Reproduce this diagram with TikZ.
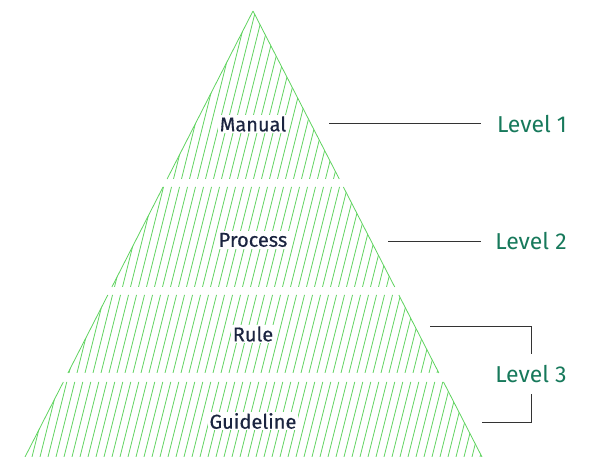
\documentclass[tikz,border=0pt]{standalone}
\usepackage{fontspec}
\setmainfont{Fira Sans}
\newfontfamily\layerfont[FakeBold=0.4]{Fira Sans}
\usetikzlibrary{calc}
\definecolor{hatchgreen}{HTML}{5FD35F}
\definecolor{labelnavy}{HTML}{1B2440}
\definecolor{levelteal}{HTML}{17795B}
\definecolor{rulegray}{HTML}{333333}
\begin{document}
\begin{tikzpicture}[x=1pt, y=1pt,
    hatch/.style = {hatchgreen, line width=0.8pt},
    layer/.style = {fill=white, inner sep=1.5pt, text=labelnavy, font=\layerfont\fontsize{20}{24}\selectfont},
    level/.style = {inner sep=1pt, text=levelteal, font=\fontsize{23}{27}\selectfont},
    leader/.style = {rulegray, line width=0.9pt}]
    \useasboundingbox (0,0) rectangle (602,457);
    \coordinate (apex) at (253,446);
    \coordinate (bl) at (25,0);
    \coordinate (br) at (482,0);
    \foreach \t/\b [count=\i] in {446/278, 270/170, 162/84, 75/0} {
        \coordinate (tl\i) at ($(apex)!{(446-\t)/446}!(bl)$);
        \coordinate (tr\i) at ($(apex)!{(446-\t)/446}!(br)$);
        \coordinate (bl\i) at ($(apex)!{(446-\b)/446}!(bl)$);
        \coordinate (br\i) at ($(apex)!{(446-\b)/446}!(br)$);
        \begin{scope}
            \clip (tl\i) -- (tr\i) -- (br\i) -- (bl\i) -- cycle;
            \foreach \x in {-96,-88,...,488}
                \draw[hatch] (\x,0) -- ++(112,448);
        \end{scope}
        \draw[hatch] (tl\i) -- (bl\i) (tr\i) -- (br\i);
    }
    \node[layer] (manual) at (253,333) {Manual};
    \node[layer] (process) at (253,217) {Process};
    \node[layer] (rule) at (253,123) {Rule};
    \node[layer] (guideline) at (253,36) {Guideline};
    \node[level] (lv1) at (532,333) {Level 1};
    \node[level] (lv2) at (531,216) {Level 2};
    \node[level] (lv3) at (531,83) {Level 3};
    \coordinate (end1) at (329,334);
    \coordinate (end2) at (388,216);
    \coordinate (end3) at (430,131);
    \coordinate (end4) at (482,35);
    \draw[leader] (end1) -- (end1 -| 481,0);
    \draw[leader] (end2) -- (end2 -| 481,0);
    \draw[leader] (end3) -| ([yshift=10pt]lv3.north);
    \draw[leader] (end4) -| ([yshift=-10pt]lv3.south);
\end{tikzpicture}
\end{document}
